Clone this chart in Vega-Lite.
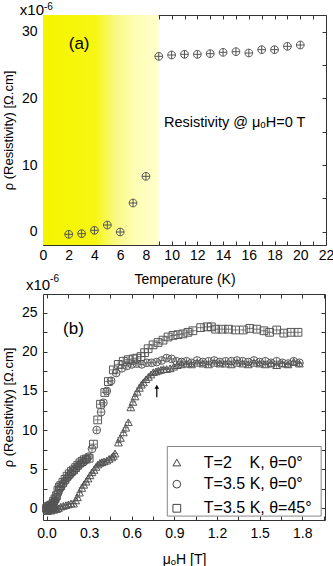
{
  "$schema": "https://vega.github.io/schema/vega-lite/v6.json",
  "padding": {"left": 2, "top": 2, "right": 4, "bottom": 2},
  "bounds": "flush",
  "spacing": 49,
  "config": {
    "font": "Liberation Sans",
    "view": {"stroke": null},
    "axis": {"domainColor": "#333", "tickColor": "#333", "labelColor": "#000", "titleColor": "#000", "labelFont": "Liberation Sans", "titleFont": "Liberation Sans", "labelFontSize": 14, "titleFontSize": 14, "titleFontWeight": "normal", "grid": false, "tickSize": -4, "labelFlush": false, "labelOverlap": false}
  },
  "vconcat": [
    {
      "width": 283,
      "height": 230,
      "layer": [
        {
          "data": {"values": [{"T0": 0, "T1": 9}]},
          "mark": {"type": "rect", "fill": {"gradient": "linear", "x1": 0, "y1": 0, "x2": 1, "y2": 0, "stops": [{"offset": 0, "color": "#f5f500"}, {"offset": 0.45, "color": "#f6f612"}, {"offset": 0.62, "color": "#f9f980"}, {"offset": 0.8, "color": "#fdfdb5"}, {"offset": 1, "color": "#ffffcc"}]}},
          "encoding": {
            "x": {"field": "T0", "type": "quantitative", "scale": {"domain": [0, 22], "nice": false, "zero": false},
              "axis": {"orient": "bottom", "values": [0,1,2,3,4,5,6,7,8,9,10,11,12,13,14,15,16,17,18,19,20,21,22], "labelExpr": "datum.value % 2 == 0 ? datum.label : ''", "title": "Temperature (K)", "labelPadding": 7, "titlePadding": 10}},
            "x2": {"field": "T1"}
          }
        },
        {
          "data": {"values": [
            {"T": 2, "rho": -0.4}, {"T": 3, "rho": -0.3}, {"T": 4, "rho": 0.2}, {"T": 5, "rho": 1.0}, {"T": 6, "rho": -0.05}, {"T": 7, "rho": 4.3}, {"T": 8, "rho": 8.3}, {"T": 9, "rho": 26.3}, {"T": 10, "rho": 26.5}, {"T": 11, "rho": 26.6}, {"T": 12, "rho": 26.6}, {"T": 13, "rho": 26.7}, {"T": 14, "rho": 26.9}, {"T": 15, "rho": 27.0}, {"T": 16, "rho": 26.8}, {"T": 17, "rho": 27.3}, {"T": 18, "rho": 27.3}, {"T": 19, "rho": 27.8}, {"T": 20, "rho": 28.0}
          ]},
          "mark": {"type": "point", "shape": "M-1,0A1,1,0,1,1,1,0A1,1,0,1,1,-1,0ZM-1,0L1,0M0,-1L0,1", "filled": false, "size": 60, "color": "#555", "strokeWidth": 1, "opacity": 1},
          "encoding": {
            "x": {"field": "T", "type": "quantitative", "scale": {"domain": [0, 22], "nice": false, "zero": false},
              "axis": {"orient": "top", "values": [0,1,2,3,4,5,6,7,8,9,10,11,12,13,14,15,16,17,18,19,20,21,22], "labels": false, "title": null}},
            "y": {"field": "rho", "type": "quantitative", "scale": {"domain": [-2, 32.5], "nice": false, "zero": false},
              "axis": {"orient": "left", "values": [0,5,10,15,20,25,30], "labelExpr": "datum.value % 10 == 0 ? datum.label : ''", "title": "ρ (Resistivity) [Ω.cm]", "titleFontSize": 13, "labelPadding": 10, "titlePadding": 6}}
          }
        },
        {
          "data": {"values": [{"T": 2.0, "rho": 28.1, "label": "(a)"}]},
          "mark": {"type": "text", "align": "left", "baseline": "middle", "fontSize": 17, "font": "Liberation Sans"},
          "encoding": {
            "x": {"field": "T", "type": "quantitative", "scale": {"domain": [0, 22], "nice": false, "zero": false}, "axis": null},
            "y": {"field": "rho", "type": "quantitative", "scale": {"domain": [-2, 32.5], "nice": false, "zero": false},
              "axis": {"orient": "right", "values": [0,5,10,15,20,25,30], "labels": false, "title": null}},
            "text": {"field": "label"}
          }
        },
        {
          "data": {"values": [{"T": 9.4, "rho": 16.3, "label": "Resistivity @ μₒH=0 T"}]},
          "mark": {"type": "text", "align": "left", "baseline": "middle", "fontSize": 14.5, "font": "Liberation Sans"},
          "encoding": {
            "x": {"field": "T", "type": "quantitative", "scale": {"domain": [0, 22], "nice": false, "zero": false}, "axis": null},
            "y": {"field": "rho", "type": "quantitative", "scale": {"domain": [-2, 32.5], "nice": false, "zero": false}, "axis": null},
            "text": {"field": "label"}
          }
        },
        {
          "data": {"values": [{"T": 0, "rho": 32.5, "label": "x10"}]},
          "mark": {"type": "text", "align": "right", "baseline": "alphabetic", "fontSize": 15, "dx": 1, "dy": 0, "font": "Liberation Sans"},
          "encoding": {
            "x": {"field": "T", "type": "quantitative", "scale": {"domain": [0, 22], "nice": false, "zero": false}, "axis": null},
            "y": {"field": "rho", "type": "quantitative", "scale": {"domain": [-2, 32.5], "nice": false, "zero": false}, "axis": null},
            "text": {"field": "label"}
          }
        },
        {
          "data": {"values": [{"T": 0, "rho": 32.5, "label": "-6"}]},
          "mark": {"type": "text", "align": "left", "baseline": "alphabetic", "fontSize": 10, "dx": 1, "dy": -5, "font": "Liberation Sans"},
          "encoding": {
            "x": {"field": "T", "type": "quantitative", "scale": {"domain": [0, 22], "nice": false, "zero": false}, "axis": null},
            "y": {"field": "rho", "type": "quantitative", "scale": {"domain": [-2, 32.5], "nice": false, "zero": false}, "axis": null},
            "text": {"field": "label"}
          }
        }
      ],
      "resolve": {"axis": {"x": "independent", "y": "independent"}}
    },
    {
      "width": 282,
      "height": 226,
      "layer": [
        {
          "data": {"name": "field"},
          "mark": {"type": "point", "filled": false, "size": 60, "color": "#555", "strokeWidth": 1, "opacity": 1},
          "encoding": {
            "x": {"field": "H", "type": "quantitative", "scale": {"domain": [-0.025, 1.96], "nice": false, "zero": false},
              "axis": {"orient": "bottom", "values": [0,0.15,0.3,0.45,0.6,0.75,0.9,1.05,1.2,1.35,1.5,1.65,1.8,1.95], "labelExpr": "(round(datum.value*100) % 30 == 0) ? format(datum.value, '.1f') : ''", "title": "μₒH [T]", "labelPadding": 10, "titlePadding": 12}},
            "y": {"field": "rho", "type": "quantitative", "scale": {"domain": [-1.5, 27.4], "nice": false, "zero": false},
              "axis": {"orient": "left", "values": [0,2.5,5,7.5,10,12.5,15,17.5,20,22.5,25], "labelExpr": "(round(datum.value*10) % 50 == 0) ? datum.label : ''", "title": "ρ (Resistivity) [Ω.cm]", "titleFontSize": 13, "labelPadding": 10, "titlePadding": 6}},
            "shape": {"field": "series", "type": "nominal",
              "scale": {"domain": ["T=2\u00a0\u00a0\u00a0\u00a0K, θ=0°", "T=3.5 K, θ=0°", "T=3.5 K, θ=45°"], "range": ["triangle-up", "circle", "square"]},
              "legend": null}
          }
        },
        {
          "data": {"name": "field"},
          "mark": {"type": "point", "shape": "M-1,0L1,0M0,-1L0,1", "filled": false, "size": 40, "color": "#555", "strokeWidth": 0.8, "opacity": 1},
          "encoding": {
            "x": {"field": "H", "type": "quantitative", "scale": {"domain": [-0.025, 1.96], "nice": false, "zero": false},
              "axis": {"orient": "top", "values": [0,0.15,0.3,0.45,0.6,0.75,0.9,1.05,1.2,1.35,1.5,1.65,1.8,1.95], "labels": false, "title": null}},
            "y": {"field": "rho", "type": "quantitative", "scale": {"domain": [-1.5, 27.4], "nice": false, "zero": false},
              "axis": {"orient": "right", "values": [0,2.5,5,7.5,10,12.5,15,17.5,20,22.5,25], "labels": false, "title": null}}
          }
        },
        {
          "data": {"values": [{"H": 0.776, "y0": 14.2, "y1": 15.5}]},
          "mark": {"type": "rule", "color": "#000", "strokeWidth": 1.2},
          "encoding": {
            "x": {"field": "H", "type": "quantitative", "scale": {"domain": [-0.025, 1.96], "nice": false, "zero": false}, "axis": null},
            "y": {"field": "y0", "type": "quantitative", "scale": {"domain": [-1.5, 27.4], "nice": false, "zero": false}, "axis": null},
            "y2": {"field": "y1"}
          }
        },
        {
          "data": {"values": [{"H": 0.776, "rho": 15.55}]},
          "mark": {"type": "point", "shape": "triangle-up", "filled": true, "size": 22, "color": "#000", "opacity": 1},
          "encoding": {
            "x": {"field": "H", "type": "quantitative", "scale": {"domain": [-0.025, 1.96], "nice": false, "zero": false}, "axis": null},
            "y": {"field": "rho", "type": "quantitative", "scale": {"domain": [-1.5, 27.4], "nice": false, "zero": false}, "axis": null}
          }
        },
        {
          "data": {"values": [{"x0": 0.85, "x1": 1.933, "y0": -1.0, "y1": 7.9}]},
          "mark": {"type": "rect", "fill": "white", "stroke": "#888", "strokeWidth": 1},
          "encoding": {
            "x": {"field": "x0", "type": "quantitative", "scale": {"domain": [-0.025, 1.96], "nice": false, "zero": false}, "axis": null},
            "x2": {"field": "x1"},
            "y": {"field": "y0", "type": "quantitative", "scale": {"domain": [-1.5, 27.4], "nice": false, "zero": false}, "axis": null},
            "y2": {"field": "y1"}
          }
        },
        {
          "data": {"name": "legendRows"},
          "mark": {"type": "point", "filled": false, "size": 60, "color": "#444", "strokeWidth": 1, "opacity": 1},
          "encoding": {
            "x": {"field": "H", "type": "quantitative", "scale": {"domain": [-0.025, 1.96], "nice": false, "zero": false}, "axis": null},
            "y": {"field": "rho", "type": "quantitative", "scale": {"domain": [-1.5, 27.4], "nice": false, "zero": false}, "axis": null},
            "shape": {"field": "series", "type": "nominal", "legend": null}
          }
        },
        {
          "data": {"name": "legendRows"},
          "mark": {"type": "text", "align": "left", "baseline": "middle", "fontSize": 16, "dx": 27, "font": "Liberation Sans"},
          "encoding": {
            "x": {"field": "H", "type": "quantitative", "scale": {"domain": [-0.025, 1.96], "nice": false, "zero": false}, "axis": null},
            "y": {"field": "rho", "type": "quantitative", "scale": {"domain": [-1.5, 27.4], "nice": false, "zero": false}, "axis": null},
            "text": {"field": "series"}
          }
        },
        {
          "data": {"values": [{"H": 0.116, "rho": 22.9, "label": "(b)"}]},
          "mark": {"type": "text", "align": "left", "baseline": "middle", "fontSize": 17, "font": "Liberation Sans"},
          "encoding": {
            "x": {"field": "H", "type": "quantitative", "scale": {"domain": [-0.025, 1.96], "nice": false, "zero": false}, "axis": null},
            "y": {"field": "rho", "type": "quantitative", "scale": {"domain": [-1.5, 27.4], "nice": false, "zero": false}, "axis": null},
            "text": {"field": "label"}
          }
        },
        {
          "data": {"values": [{"H": 0.025, "rho": 27.4, "label": "x10"}]},
          "mark": {"type": "text", "align": "right", "baseline": "alphabetic", "fontSize": 15, "dy": -4, "font": "Liberation Sans"},
          "encoding": {
            "x": {"field": "H", "type": "quantitative", "scale": {"domain": [-0.025, 1.96], "nice": false, "zero": false}, "axis": null},
            "y": {"field": "rho", "type": "quantitative", "scale": {"domain": [-1.5, 27.4], "nice": false, "zero": false}, "axis": null},
            "text": {"field": "label"}
          }
        },
        {
          "data": {"values": [{"H": 0.025, "rho": 27.4, "label": "-6"}]},
          "mark": {"type": "text", "align": "left", "baseline": "alphabetic", "fontSize": 10, "dy": -12, "font": "Liberation Sans"},
          "encoding": {
            "x": {"field": "H", "type": "quantitative", "scale": {"domain": [-0.025, 1.96], "nice": false, "zero": false}, "axis": null},
            "y": {"field": "rho", "type": "quantitative", "scale": {"domain": [-1.5, 27.4], "nice": false, "zero": false}, "axis": null},
            "text": {"field": "label"}
          }
        }
      ],
      "resolve": {"axis": {"x": "independent", "y": "independent"}}
    }
  ],
  "datasets": {
    "legendRows": [
      {"series": "T=2\u00a0\u00a0\u00a0\u00a0K, θ=0°", "H": 0.917, "rho": 5.85},
      {"series": "T=3.5 K, θ=0°", "H": 0.917, "rho": 3.08},
      {"series": "T=3.5 K, θ=45°", "H": 0.917, "rho": 0.0}
    ],
    "field": [
      {"series": "T=2\u00a0\u00a0\u00a0\u00a0K, θ=0°", "H": 0.000, "rho": 0.0},
      {"series": "T=2\u00a0\u00a0\u00a0\u00a0K, θ=0°", "H": 0.010, "rho": -0.2},
      {"series": "T=2\u00a0\u00a0\u00a0\u00a0K, θ=0°", "H": 0.020, "rho": 0.1},
      {"series": "T=2\u00a0\u00a0\u00a0\u00a0K, θ=0°", "H": 0.030, "rho": -0.3},
      {"series": "T=2\u00a0\u00a0\u00a0\u00a0K, θ=0°", "H": 0.040, "rho": 0.0},
      {"series": "T=2\u00a0\u00a0\u00a0\u00a0K, θ=0°", "H": 0.050, "rho": -0.2},
      {"series": "T=2\u00a0\u00a0\u00a0\u00a0K, θ=0°", "H": 0.060, "rho": 0.1},
      {"series": "T=2\u00a0\u00a0\u00a0\u00a0K, θ=0°", "H": 0.070, "rho": -0.1},
      {"series": "T=2\u00a0\u00a0\u00a0\u00a0K, θ=0°", "H": 0.083, "rho": 0.0},
      {"series": "T=2\u00a0\u00a0\u00a0\u00a0K, θ=0°", "H": 0.100, "rho": 0.2},
      {"series": "T=2\u00a0\u00a0\u00a0\u00a0K, θ=0°", "H": 0.118, "rho": 0.3},
      {"series": "T=2\u00a0\u00a0\u00a0\u00a0K, θ=0°", "H": 0.136, "rho": 0.4},
      {"series": "T=2\u00a0\u00a0\u00a0\u00a0K, θ=0°", "H": 0.154, "rho": 0.5},
      {"series": "T=2\u00a0\u00a0\u00a0\u00a0K, θ=0°", "H": 0.172, "rho": 0.6},
      {"series": "T=2\u00a0\u00a0\u00a0\u00a0K, θ=0°", "H": 0.190, "rho": 0.6},
      {"series": "T=2\u00a0\u00a0\u00a0\u00a0K, θ=0°", "H": 0.205, "rho": 1.0},
      {"series": "T=2\u00a0\u00a0\u00a0\u00a0K, θ=0°", "H": 0.217, "rho": 1.4},
      {"series": "T=2\u00a0\u00a0\u00a0\u00a0K, θ=0°", "H": 0.232, "rho": 2.0},
      {"series": "T=2\u00a0\u00a0\u00a0\u00a0K, θ=0°", "H": 0.248, "rho": 2.6},
      {"series": "T=2\u00a0\u00a0\u00a0\u00a0K, θ=0°", "H": 0.262, "rho": 3.0},
      {"series": "T=2\u00a0\u00a0\u00a0\u00a0K, θ=0°", "H": 0.278, "rho": 3.4},
      {"series": "T=2\u00a0\u00a0\u00a0\u00a0K, θ=0°", "H": 0.292, "rho": 3.8},
      {"series": "T=2\u00a0\u00a0\u00a0\u00a0K, θ=0°", "H": 0.306, "rho": 4.2},
      {"series": "T=2\u00a0\u00a0\u00a0\u00a0K, θ=0°", "H": 0.320, "rho": 4.6},
      {"series": "T=2\u00a0\u00a0\u00a0\u00a0K, θ=0°", "H": 0.334, "rho": 4.9},
      {"series": "T=2\u00a0\u00a0\u00a0\u00a0K, θ=0°", "H": 0.348, "rho": 5.3},
      {"series": "T=2\u00a0\u00a0\u00a0\u00a0K, θ=0°", "H": 0.362, "rho": 5.6},
      {"series": "T=2\u00a0\u00a0\u00a0\u00a0K, θ=0°", "H": 0.376, "rho": 5.8},
      {"series": "T=2\u00a0\u00a0\u00a0\u00a0K, θ=0°", "H": 0.390, "rho": 5.9},
      {"series": "T=2\u00a0\u00a0\u00a0\u00a0K, θ=0°", "H": 0.405, "rho": 6.0},
      {"series": "T=2\u00a0\u00a0\u00a0\u00a0K, θ=0°", "H": 0.424, "rho": 6.1},
      {"series": "T=2\u00a0\u00a0\u00a0\u00a0K, θ=0°", "H": 0.440, "rho": 6.3},
      {"series": "T=2\u00a0\u00a0\u00a0\u00a0K, θ=0°", "H": 0.459, "rho": 6.5},
      {"series": "T=2\u00a0\u00a0\u00a0\u00a0K, θ=0°", "H": 0.470, "rho": 6.7},
      {"series": "T=2\u00a0\u00a0\u00a0\u00a0K, θ=0°", "H": 0.482, "rho": 7.0},
      {"series": "T=2\u00a0\u00a0\u00a0\u00a0K, θ=0°", "H": 0.506, "rho": 8.4},
      {"series": "T=2\u00a0\u00a0\u00a0\u00a0K, θ=0°", "H": 0.520, "rho": 9.0},
      {"series": "T=2\u00a0\u00a0\u00a0\u00a0K, θ=0°", "H": 0.541, "rho": 9.7},
      {"series": "T=2\u00a0\u00a0\u00a0\u00a0K, θ=0°", "H": 0.558, "rho": 10.3},
      {"series": "T=2\u00a0\u00a0\u00a0\u00a0K, θ=0°", "H": 0.576, "rho": 11.0},
      {"series": "T=2\u00a0\u00a0\u00a0\u00a0K, θ=0°", "H": 0.593, "rho": 12.9},
      {"series": "T=2\u00a0\u00a0\u00a0\u00a0K, θ=0°", "H": 0.608, "rho": 13.6},
      {"series": "T=2\u00a0\u00a0\u00a0\u00a0K, θ=0°", "H": 0.623, "rho": 14.3},
      {"series": "T=2\u00a0\u00a0\u00a0\u00a0K, θ=0°", "H": 0.638, "rho": 14.9},
      {"series": "T=2\u00a0\u00a0\u00a0\u00a0K, θ=0°", "H": 0.654, "rho": 15.4},
      {"series": "T=2\u00a0\u00a0\u00a0\u00a0K, θ=0°", "H": 0.668, "rho": 15.8},
      {"series": "T=2\u00a0\u00a0\u00a0\u00a0K, θ=0°", "H": 0.682, "rho": 16.1},
      {"series": "T=2\u00a0\u00a0\u00a0\u00a0K, θ=0°", "H": 0.700, "rho": 16.5},
      {"series": "T=2\u00a0\u00a0\u00a0\u00a0K, θ=0°", "H": 0.717, "rho": 16.8},
      {"series": "T=2\u00a0\u00a0\u00a0\u00a0K, θ=0°", "H": 0.735, "rho": 17.1},
      {"series": "T=2\u00a0\u00a0\u00a0\u00a0K, θ=0°", "H": 0.752, "rho": 17.4},
      {"series": "T=2\u00a0\u00a0\u00a0\u00a0K, θ=0°", "H": 0.770, "rho": 17.5},
      {"series": "T=2\u00a0\u00a0\u00a0\u00a0K, θ=0°", "H": 0.787, "rho": 17.6},
      {"series": "T=2\u00a0\u00a0\u00a0\u00a0K, θ=0°", "H": 0.805, "rho": 17.7},
      {"series": "T=2\u00a0\u00a0\u00a0\u00a0K, θ=0°", "H": 0.823, "rho": 17.8},
      {"series": "T=2\u00a0\u00a0\u00a0\u00a0K, θ=0°", "H": 0.845, "rho": 17.8},
      {"series": "T=2\u00a0\u00a0\u00a0\u00a0K, θ=0°", "H": 0.870, "rho": 17.9},
      {"series": "T=2\u00a0\u00a0\u00a0\u00a0K, θ=0°", "H": 0.895, "rho": 18.1},
      {"series": "T=2\u00a0\u00a0\u00a0\u00a0K, θ=0°", "H": 0.920, "rho": 18.3},
      {"series": "T=2\u00a0\u00a0\u00a0\u00a0K, θ=0°", "H": 0.950, "rho": 18.4},
      {"series": "T=2\u00a0\u00a0\u00a0\u00a0K, θ=0°", "H": 0.985, "rho": 18.5},
      {"series": "T=2\u00a0\u00a0\u00a0\u00a0K, θ=0°", "H": 1.020, "rho": 18.4},
      {"series": "T=2\u00a0\u00a0\u00a0\u00a0K, θ=0°", "H": 1.060, "rho": 18.6},
      {"series": "T=2\u00a0\u00a0\u00a0\u00a0K, θ=0°", "H": 1.100, "rho": 18.5},
      {"series": "T=2\u00a0\u00a0\u00a0\u00a0K, θ=0°", "H": 1.140, "rho": 18.4},
      {"series": "T=2\u00a0\u00a0\u00a0\u00a0K, θ=0°", "H": 1.180, "rho": 18.6},
      {"series": "T=2\u00a0\u00a0\u00a0\u00a0K, θ=0°", "H": 1.220, "rho": 18.5},
      {"series": "T=2\u00a0\u00a0\u00a0\u00a0K, θ=0°", "H": 1.260, "rho": 18.5},
      {"series": "T=2\u00a0\u00a0\u00a0\u00a0K, θ=0°", "H": 1.300, "rho": 18.4},
      {"series": "T=2\u00a0\u00a0\u00a0\u00a0K, θ=0°", "H": 1.340, "rho": 18.6},
      {"series": "T=2\u00a0\u00a0\u00a0\u00a0K, θ=0°", "H": 1.380, "rho": 18.5},
      {"series": "T=2\u00a0\u00a0\u00a0\u00a0K, θ=0°", "H": 1.420, "rho": 18.4},
      {"series": "T=2\u00a0\u00a0\u00a0\u00a0K, θ=0°", "H": 1.460, "rho": 18.6},
      {"series": "T=2\u00a0\u00a0\u00a0\u00a0K, θ=0°", "H": 1.500, "rho": 18.5},
      {"series": "T=2\u00a0\u00a0\u00a0\u00a0K, θ=0°", "H": 1.540, "rho": 18.4},
      {"series": "T=2\u00a0\u00a0\u00a0\u00a0K, θ=0°", "H": 1.580, "rho": 18.5},
      {"series": "T=2\u00a0\u00a0\u00a0\u00a0K, θ=0°", "H": 1.620, "rho": 18.3},
      {"series": "T=2\u00a0\u00a0\u00a0\u00a0K, θ=0°", "H": 1.660, "rho": 18.5},
      {"series": "T=2\u00a0\u00a0\u00a0\u00a0K, θ=0°", "H": 1.700, "rho": 18.4},
      {"series": "T=2\u00a0\u00a0\u00a0\u00a0K, θ=0°", "H": 1.740, "rho": 18.7},
      {"series": "T=2\u00a0\u00a0\u00a0\u00a0K, θ=0°", "H": 1.780, "rho": 18.5},
      {"series": "T=3.5 K, θ=0°", "H": 0.000, "rho": 0.1},
      {"series": "T=3.5 K, θ=0°", "H": 0.005, "rho": -0.2},
      {"series": "T=3.5 K, θ=0°", "H": 0.010, "rho": 0.0},
      {"series": "T=3.5 K, θ=0°", "H": 0.015, "rho": 0.3},
      {"series": "T=3.5 K, θ=0°", "H": 0.020, "rho": -0.1},
      {"series": "T=3.5 K, θ=0°", "H": 0.030, "rho": 0.2},
      {"series": "T=3.5 K, θ=0°", "H": 0.040, "rho": 0.5},
      {"series": "T=3.5 K, θ=0°", "H": 0.050, "rho": 0.8},
      {"series": "T=3.5 K, θ=0°", "H": 0.060, "rho": 1.0},
      {"series": "T=3.5 K, θ=0°", "H": 0.070, "rho": 1.4},
      {"series": "T=3.5 K, θ=0°", "H": 0.080, "rho": 1.9},
      {"series": "T=3.5 K, θ=0°", "H": 0.090, "rho": 2.4},
      {"series": "T=3.5 K, θ=0°", "H": 0.100, "rho": 2.7},
      {"series": "T=3.5 K, θ=0°", "H": 0.115, "rho": 3.1},
      {"series": "T=3.5 K, θ=0°", "H": 0.130, "rho": 3.5},
      {"series": "T=3.5 K, θ=0°", "H": 0.145, "rho": 3.9},
      {"series": "T=3.5 K, θ=0°", "H": 0.160, "rho": 4.2},
      {"series": "T=3.5 K, θ=0°", "H": 0.175, "rho": 4.5},
      {"series": "T=3.5 K, θ=0°", "H": 0.190, "rho": 4.8},
      {"series": "T=3.5 K, θ=0°", "H": 0.205, "rho": 5.1},
      {"series": "T=3.5 K, θ=0°", "H": 0.220, "rho": 5.4},
      {"series": "T=3.5 K, θ=0°", "H": 0.240, "rho": 5.7},
      {"series": "T=3.5 K, θ=0°", "H": 0.260, "rho": 5.9},
      {"series": "T=3.5 K, θ=0°", "H": 0.280, "rho": 6.3},
      {"series": "T=3.5 K, θ=0°", "H": 0.295, "rho": 6.6},
      {"series": "T=3.5 K, θ=0°", "H": 0.320, "rho": 7.6},
      {"series": "T=3.5 K, θ=0°", "H": 0.353, "rho": 10.0},
      {"series": "T=3.5 K, θ=0°", "H": 0.384, "rho": 12.3},
      {"series": "T=3.5 K, θ=0°", "H": 0.400, "rho": 13.5},
      {"series": "T=3.5 K, θ=0°", "H": 0.424, "rho": 15.0},
      {"series": "T=3.5 K, θ=0°", "H": 0.454, "rho": 16.3},
      {"series": "T=3.5 K, θ=0°", "H": 0.490, "rho": 17.3},
      {"series": "T=3.5 K, θ=0°", "H": 0.530, "rho": 17.9},
      {"series": "T=3.5 K, θ=0°", "H": 0.565, "rho": 18.2},
      {"series": "T=3.5 K, θ=0°", "H": 0.600, "rho": 18.4},
      {"series": "T=3.5 K, θ=0°", "H": 0.635, "rho": 18.5},
      {"series": "T=3.5 K, θ=0°", "H": 0.670, "rho": 18.4},
      {"series": "T=3.5 K, θ=0°", "H": 0.705, "rho": 18.6},
      {"series": "T=3.5 K, θ=0°", "H": 0.740, "rho": 18.6},
      {"series": "T=3.5 K, θ=0°", "H": 0.775, "rho": 18.7},
      {"series": "T=3.5 K, θ=0°", "H": 0.810, "rho": 18.9},
      {"series": "T=3.5 K, θ=0°", "H": 0.845, "rho": 19.2},
      {"series": "T=3.5 K, θ=0°", "H": 0.880, "rho": 19.1},
      {"series": "T=3.5 K, θ=0°", "H": 0.915, "rho": 18.8},
      {"series": "T=3.5 K, θ=0°", "H": 0.950, "rho": 18.7},
      {"series": "T=3.5 K, θ=0°", "H": 0.985, "rho": 18.8},
      {"series": "T=3.5 K, θ=0°", "H": 1.020, "rho": 18.6},
      {"series": "T=3.5 K, θ=0°", "H": 1.060, "rho": 18.9},
      {"series": "T=3.5 K, θ=0°", "H": 1.100, "rho": 18.7},
      {"series": "T=3.5 K, θ=0°", "H": 1.140, "rho": 18.8},
      {"series": "T=3.5 K, θ=0°", "H": 1.180, "rho": 18.9},
      {"series": "T=3.5 K, θ=0°", "H": 1.220, "rho": 18.7},
      {"series": "T=3.5 K, θ=0°", "H": 1.260, "rho": 18.8},
      {"series": "T=3.5 K, θ=0°", "H": 1.300, "rho": 18.8},
      {"series": "T=3.5 K, θ=0°", "H": 1.340, "rho": 18.9},
      {"series": "T=3.5 K, θ=0°", "H": 1.380, "rho": 18.8},
      {"series": "T=3.5 K, θ=0°", "H": 1.420, "rho": 18.7},
      {"series": "T=3.5 K, θ=0°", "H": 1.460, "rho": 18.9},
      {"series": "T=3.5 K, θ=0°", "H": 1.500, "rho": 18.7},
      {"series": "T=3.5 K, θ=0°", "H": 1.540, "rho": 18.8},
      {"series": "T=3.5 K, θ=0°", "H": 1.580, "rho": 18.6},
      {"series": "T=3.5 K, θ=0°", "H": 1.620, "rho": 18.8},
      {"series": "T=3.5 K, θ=0°", "H": 1.660, "rho": 18.6},
      {"series": "T=3.5 K, θ=0°", "H": 1.700, "rho": 18.5},
      {"series": "T=3.5 K, θ=0°", "H": 1.740, "rho": 18.8},
      {"series": "T=3.5 K, θ=0°", "H": 1.780, "rho": 18.6},
      {"series": "T=3.5 K, θ=45°", "H": 0.000, "rho": 0.0},
      {"series": "T=3.5 K, θ=45°", "H": 0.005, "rho": -0.3},
      {"series": "T=3.5 K, θ=45°", "H": 0.010, "rho": 0.2},
      {"series": "T=3.5 K, θ=45°", "H": 0.015, "rho": -0.1},
      {"series": "T=3.5 K, θ=45°", "H": 0.020, "rho": 0.3},
      {"series": "T=3.5 K, θ=45°", "H": 0.025, "rho": 0.0},
      {"series": "T=3.5 K, θ=45°", "H": 0.030, "rho": 0.4},
      {"series": "T=3.5 K, θ=45°", "H": 0.040, "rho": 0.2},
      {"series": "T=3.5 K, θ=45°", "H": 0.045, "rho": 0.6},
      {"series": "T=3.5 K, θ=45°", "H": 0.050, "rho": 0.9},
      {"series": "T=3.5 K, θ=45°", "H": 0.060, "rho": 1.2},
      {"series": "T=3.5 K, θ=45°", "H": 0.070, "rho": 1.6},
      {"series": "T=3.5 K, θ=45°", "H": 0.080, "rho": 2.3},
      {"series": "T=3.5 K, θ=45°", "H": 0.090, "rho": 2.7},
      {"series": "T=3.5 K, θ=45°", "H": 0.100, "rho": 2.9},
      {"series": "T=3.5 K, θ=45°", "H": 0.115, "rho": 3.3},
      {"series": "T=3.5 K, θ=45°", "H": 0.130, "rho": 3.7},
      {"series": "T=3.5 K, θ=45°", "H": 0.145, "rho": 4.1},
      {"series": "T=3.5 K, θ=45°", "H": 0.160, "rho": 4.4},
      {"series": "T=3.5 K, θ=45°", "H": 0.175, "rho": 4.7},
      {"series": "T=3.5 K, θ=45°", "H": 0.190, "rho": 4.9},
      {"series": "T=3.5 K, θ=45°", "H": 0.205, "rho": 5.2},
      {"series": "T=3.5 K, θ=45°", "H": 0.220, "rho": 5.5},
      {"series": "T=3.5 K, θ=45°", "H": 0.235, "rho": 5.8},
      {"series": "T=3.5 K, θ=45°", "H": 0.250, "rho": 6.0},
      {"series": "T=3.5 K, θ=45°", "H": 0.265, "rho": 6.2},
      {"series": "T=3.5 K, θ=45°", "H": 0.280, "rho": 6.3},
      {"series": "T=3.5 K, θ=45°", "H": 0.300, "rho": 6.4},
      {"series": "T=3.5 K, θ=45°", "H": 0.330, "rho": 8.2},
      {"series": "T=3.5 K, θ=45°", "H": 0.360, "rho": 11.3},
      {"series": "T=3.5 K, θ=45°", "H": 0.380, "rho": 13.3},
      {"series": "T=3.5 K, θ=45°", "H": 0.410, "rho": 14.8},
      {"series": "T=3.5 K, θ=45°", "H": 0.435, "rho": 16.2},
      {"series": "T=3.5 K, θ=45°", "H": 0.470, "rho": 17.7},
      {"series": "T=3.5 K, θ=45°", "H": 0.505, "rho": 18.4},
      {"series": "T=3.5 K, θ=45°", "H": 0.540, "rho": 18.8},
      {"series": "T=3.5 K, θ=45°", "H": 0.575, "rho": 19.0},
      {"series": "T=3.5 K, θ=45°", "H": 0.610, "rho": 19.1},
      {"series": "T=3.5 K, θ=45°", "H": 0.635, "rho": 19.2},
      {"series": "T=3.5 K, θ=45°", "H": 0.665, "rho": 19.4},
      {"series": "T=3.5 K, θ=45°", "H": 0.690, "rho": 19.9},
      {"series": "T=3.5 K, θ=45°", "H": 0.715, "rho": 20.4},
      {"series": "T=3.5 K, θ=45°", "H": 0.750, "rho": 20.9},
      {"series": "T=3.5 K, θ=45°", "H": 0.785, "rho": 21.2},
      {"series": "T=3.5 K, θ=45°", "H": 0.820, "rho": 21.5},
      {"series": "T=3.5 K, θ=45°", "H": 0.855, "rho": 21.9},
      {"series": "T=3.5 K, θ=45°", "H": 0.890, "rho": 22.1},
      {"series": "T=3.5 K, θ=45°", "H": 0.925, "rho": 22.2},
      {"series": "T=3.5 K, θ=45°", "H": 0.960, "rho": 22.3},
      {"series": "T=3.5 K, θ=45°", "H": 0.995, "rho": 22.5},
      {"series": "T=3.5 K, θ=45°", "H": 1.030, "rho": 22.7},
      {"series": "T=3.5 K, θ=45°", "H": 1.085, "rho": 23.1},
      {"series": "T=3.5 K, θ=45°", "H": 1.130, "rho": 23.2},
      {"series": "T=3.5 K, θ=45°", "H": 1.160, "rho": 23.2},
      {"series": "T=3.5 K, θ=45°", "H": 1.190, "rho": 22.9},
      {"series": "T=3.5 K, θ=45°", "H": 1.235, "rho": 22.9},
      {"series": "T=3.5 K, θ=45°", "H": 1.280, "rho": 22.9},
      {"series": "T=3.5 K, θ=45°", "H": 1.330, "rho": 22.8},
      {"series": "T=3.5 K, θ=45°", "H": 1.385, "rho": 22.8},
      {"series": "T=3.5 K, θ=45°", "H": 1.430, "rho": 23.0},
      {"series": "T=3.5 K, θ=45°", "H": 1.480, "rho": 22.9},
      {"series": "T=3.5 K, θ=45°", "H": 1.530, "rho": 22.7},
      {"series": "T=3.5 K, θ=45°", "H": 1.570, "rho": 22.5},
      {"series": "T=3.5 K, θ=45°", "H": 1.620, "rho": 22.8},
      {"series": "T=3.5 K, θ=45°", "H": 1.670, "rho": 22.4},
      {"series": "T=3.5 K, θ=45°", "H": 1.720, "rho": 22.5},
      {"series": "T=3.5 K, θ=45°", "H": 1.770, "rho": 22.5}
    ]
  }
}
